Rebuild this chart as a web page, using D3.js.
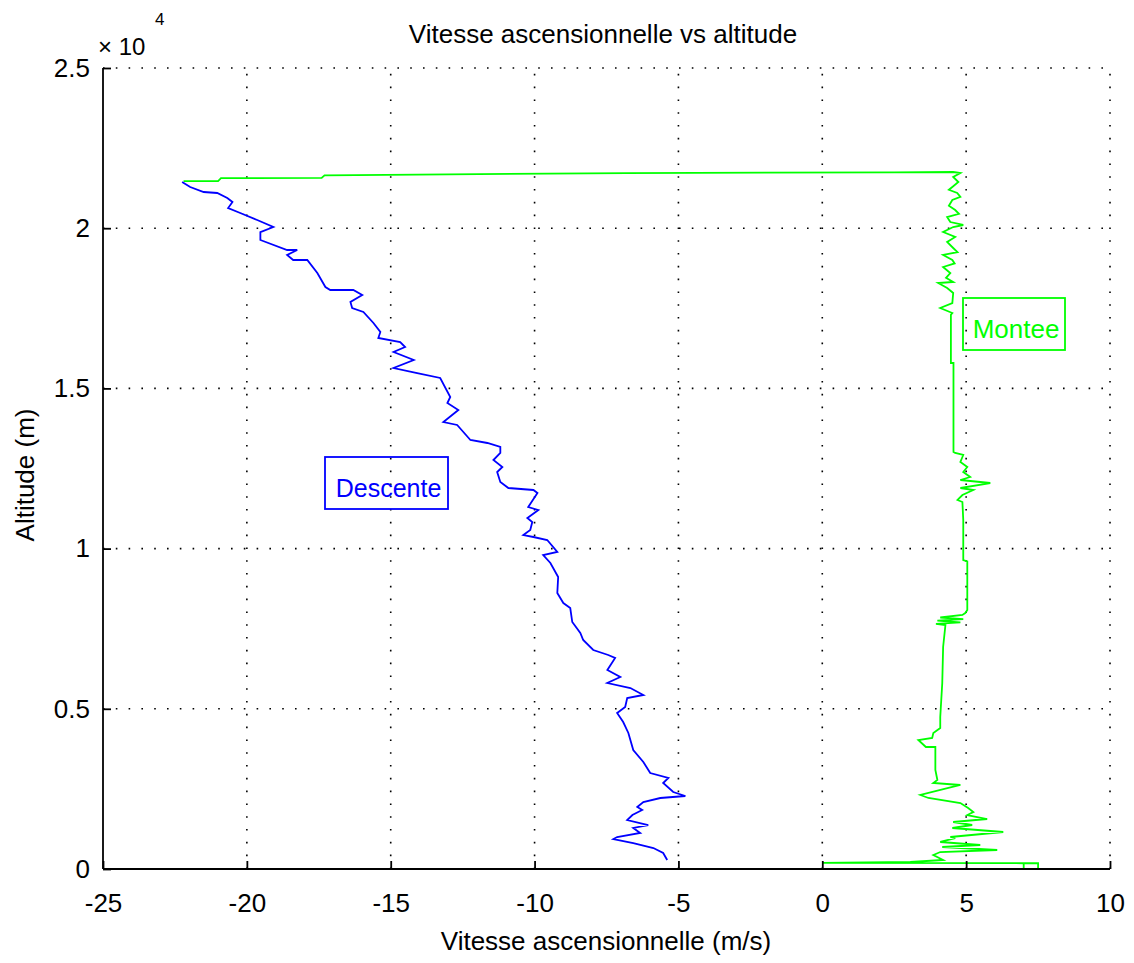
<!DOCTYPE html>
<html>
<head>
<meta charset="utf-8">
<script src="https://cdn.jsdelivr.net/npm/d3@7"></script>
<style>
  body { margin: 0; background: #fff; }
  svg { display: block; font-family: "Liberation Sans", Arial, sans-serif; }
</style>
</head>
<body>
<svg id="chart"></svg>
<script>
const xTicks = [-25, -20, -15, -10, -5, 0, 5, 10];
const yTicks = [0, 5000, 10000, 15000, 20000, 25000];

// descente : [vitesse m/s, altitude m], du sommet vers le sol
const descente = [
  [-22.25, 21442], [-21.97, 21286], [-21.5, 21130], [-21.03, 21099], [-20.68, 20943], [-20.5, 20817],
  [-20.65, 20630], [-20.23, 20474], [-19.64, 20256], [-19.08, 20037], [-19.53, 19880], [-19.53, 19632],
  [-18.6, 19320], [-18.25, 19320], [-18.6, 19164], [-18.39, 19007], [-17.9, 19007], [-17.55, 18601],
  [-17.27, 18164], [-17.1, 18071], [-16.3, 18071], [-15.99, 17915], [-16.4, 17696], [-16.34, 17509],
  [-15.95, 17385], [-15.6, 17041], [-15.36, 16760], [-15.43, 16573], [-14.67, 16448], [-14.5, 16292],
  [-14.9, 16136], [-14.2, 15886], [-14.9, 15636], [-14.08, 15480], [-13.28, 15325], [-12.93, 14732],
  [-13.03, 14544], [-12.65, 14326], [-13.17, 13951], [-12.69, 13858], [-12.23, 13390], [-11.64, 13296],
  [-11.19, 13171], [-11.19, 12984], [-11.43, 12765], [-11.12, 12547], [-11.3, 12391], [-11.19, 12079],
  [-10.91, 11891], [-10.04, 11829], [-9.9, 11735], [-10.22, 11298], [-9.87, 11205], [-10.25, 10955],
  [-10.08, 10830], [-10.15, 10581], [-10.39, 10424], [-10.04, 10362], [-9.56, 10268], [-9.21, 9894],
  [-9.7, 9800], [-9.45, 9551], [-9.18, 9114], [-9.21, 8614], [-9.0, 8302], [-8.76, 8146],
  [-8.69, 7709], [-8.41, 7366], [-8.31, 7147], [-7.96, 6835], [-7.44, 6679], [-7.2, 6585],
  [-7.47, 6211], [-7.02, 5992], [-7.47, 5805], [-6.67, 5649], [-6.22, 5431], [-6.78, 5337],
  [-6.85, 5056], [-7.13, 4869], [-6.92, 4588], [-6.74, 4245], [-6.57, 3714], [-6.22, 3340],
  [-5.98, 2996], [-5.35, 2840], [-5.53, 2684], [-5.18, 2403], [-4.76, 2278], [-5.63, 2216],
  [-6.22, 2091], [-6.43, 1935], [-6.26, 1841], [-6.6, 1685], [-6.78, 1529], [-6.05, 1373],
  [-6.57, 1280], [-6.33, 1124], [-7.13, 999], [-7.26, 936], [-6.57, 811], [-5.87, 655],
  [-5.53, 499], [-5.39, 281]
];

// montee : [vitesse m/s, altitude m], du sol vers le sommet
const montee = [
  [0, 0], [7.5, 0], [7.5, 180], [7.0, 180], [7.0, 20], [7.0, 180], [0, 190], [3.06, 218],
  [4.2, 281], [3.86, 437], [4.1, 530], [6.08, 593], [4.17, 686], [5.49, 749], [4.1, 843],
  [4.62, 967], [4.45, 999], [6.29, 1155], [4.52, 1280], [5.21, 1373], [4.55, 1467], [5.73, 1560],
  [5.04, 1685], [5.25, 1779], [5.07, 1904], [4.8, 2060], [3.69, 2216], [3.41, 2310], [4.8, 2622],
  [3.86, 2684], [4.0, 2778], [3.93, 3090], [3.93, 3808], [3.6, 3808], [3.34, 4026], [3.82, 4089],
  [3.86, 4245], [4.1, 4401], [4.1, 4744], [4.17, 5805], [4.2, 6929], [4.28, 7616], [3.95, 7650],
  [4.8, 7700], [4.0, 7750], [4.9, 7800], [4.1, 7850], [4.87, 7928], [4.97, 7990], [5.04, 8084],
  [5.04, 9600], [4.9, 9644], [4.9, 10893], [4.87, 11454], [4.7, 11517], [4.87, 11673], [5.25, 11829],
  [4.8, 11891], [5.84, 12047], [4.8, 12141], [5.14, 12235], [4.9, 12391], [5.04, 12547], [4.8, 12703],
  [4.9, 12922], [4.62, 12984], [4.56, 13015], [4.56, 15793], [4.47, 15793], [4.47, 17300],
  [4.52, 17353], [4.1, 17509], [4.52, 17665], [4.55, 17977], [4.34, 18133], [4.03, 18290],
  [4.55, 18321], [4.3, 18450], [4.45, 18601], [4.2, 18789], [4.6, 18900], [4.52, 19007], [4.2, 19164],
  [4.7, 19250], [4.55, 19382], [4.34, 19569], [4.62, 19725], [4.2, 19881], [4.55, 20037], [4.9, 20100],
  [4.45, 20193], [4.34, 20349], [4.75, 20450], [4.62, 20568], [4.4, 20700], [4.52, 20880], [4.8, 20980],
  [4.69, 21099], [4.4, 21200], [4.52, 21286], [4.73, 21442], [4.55, 21598], [4.8, 21723], [4.55, 21754],
  [2.5, 21745], [-6.8, 21720], [-17.3, 21650], [-17.4, 21570], [-20.9, 21560], [-21.0, 21470],
  [-22.2, 21470]
];

const W = 1134, H = 963;
const plot = { left: 103, right: 1110, top: 68, bottom: 869 };
const FONT = '"Liberation Sans", Arial, sans-serif';

const svg = d3.select('#chart').attr('width', W).attr('height', H);

const x = d3.scaleLinear().domain([-25, 10]).range([plot.left, plot.right]);
const y = d3.scaleLinear().domain([0, 25000]).range([plot.bottom, plot.top]);

// grille pointillee
const grid = svg.append('g').attr('stroke', '#000').attr('stroke-width', 1.6)
  .attr('stroke-dasharray', '1.6,11.2').attr('fill', 'none');
grid.selectAll('.gx').data(xTicks.slice(1)).join('line')
  .attr('x1', d => x(d)).attr('x2', d => x(d))
  .attr('y1', plot.bottom).attr('y2', plot.top);
grid.selectAll('.gy').data(yTicks.slice(1)).join('line')
  .attr('y1', d => y(d)).attr('y2', d => y(d))
  .attr('x1', plot.left).attr('x2', plot.right);

// courbes
const line = d3.line().x(d => x(d[0])).y(d => y(d[1]));
svg.append('path').datum(montee).attr('d', line)
  .attr('fill', 'none').attr('stroke', '#00ff00').attr('stroke-width', 1.8);
svg.append('path').datum(descente).attr('d', line)
  .attr('fill', 'none').attr('stroke', '#0000ff').attr('stroke-width', 1.8);

// axes
const xAxis = d3.axisBottom(x).tickValues(xTicks).tickSize(-8).tickPadding(25)
  .tickFormat(d => String(d));
const yAxis = d3.axisLeft(y).tickValues(yTicks).tickSize(-8).tickPadding(13)
  .tickFormat(d => String(d / 1e4));

const gx = svg.append('g').attr('transform', `translate(0,${plot.bottom})`).call(xAxis);
const gy = svg.append('g').attr('transform', `translate(${plot.left},0)`).call(yAxis);
[gx, gy].forEach(g => {
  g.select('.domain').attr('stroke', '#000').attr('stroke-width', 1.8);
  g.selectAll('.tick line').attr('stroke', '#000').attr('stroke-width', 1.8);
  g.selectAll('.tick text').attr('fill', '#000').attr('font-size', 26).attr('font-family', FONT);
});
gx.select('.domain').attr('d', `M${plot.left},0H${plot.right}`);
gy.select('.domain').attr('d', `M0,${plot.bottom}V${plot.top}`);

// exposant
svg.append('text').attr('x', 98).attr('y', 55).attr('font-size', 24).text('\u00d7 10');
svg.append('text').attr('x', 155).attr('y', 25).attr('font-size', 17).text('4');

// titres
svg.append('text').attr('x', 603).attr('y', 43).attr('text-anchor', 'middle')
  .attr('font-size', 26).text('Vitesse ascensionnelle vs altitude');
svg.append('text').attr('x', 606).attr('y', 950).attr('text-anchor', 'middle')
  .attr('font-size', 26).text('Vitesse ascensionnelle (m/s)');
svg.append('text').attr('transform', 'translate(34,475) rotate(-90)').attr('text-anchor', 'middle')
  .attr('font-size', 26).text('Altitude (m)');

// etiquettes encadrees
const labels = [
  { text: 'Descente', color: '#0000ff', x0: 325, y0: 457, x1: 448, y1: 509, base: 497, size: 25 },
  { text: 'Montee', color: '#00ff00', x0: 963, y0: 298, x1: 1065, y1: 350, base: 338, size: 26 }
];
labels.forEach(l => {
  svg.append('rect').attr('x', l.x0).attr('y', l.y0)
    .attr('width', l.x1 - l.x0).attr('height', l.y1 - l.y0)
    .attr('fill', 'none').attr('stroke', l.color).attr('stroke-width', 1.8);
  svg.append('text').attr('x', (l.x0 + l.x1) / 2 + 2).attr('y', l.base)
    .attr('text-anchor', 'middle').attr('font-size', l.size).attr('fill', l.color).text(l.text);
});
</script>
</body>
</html>
